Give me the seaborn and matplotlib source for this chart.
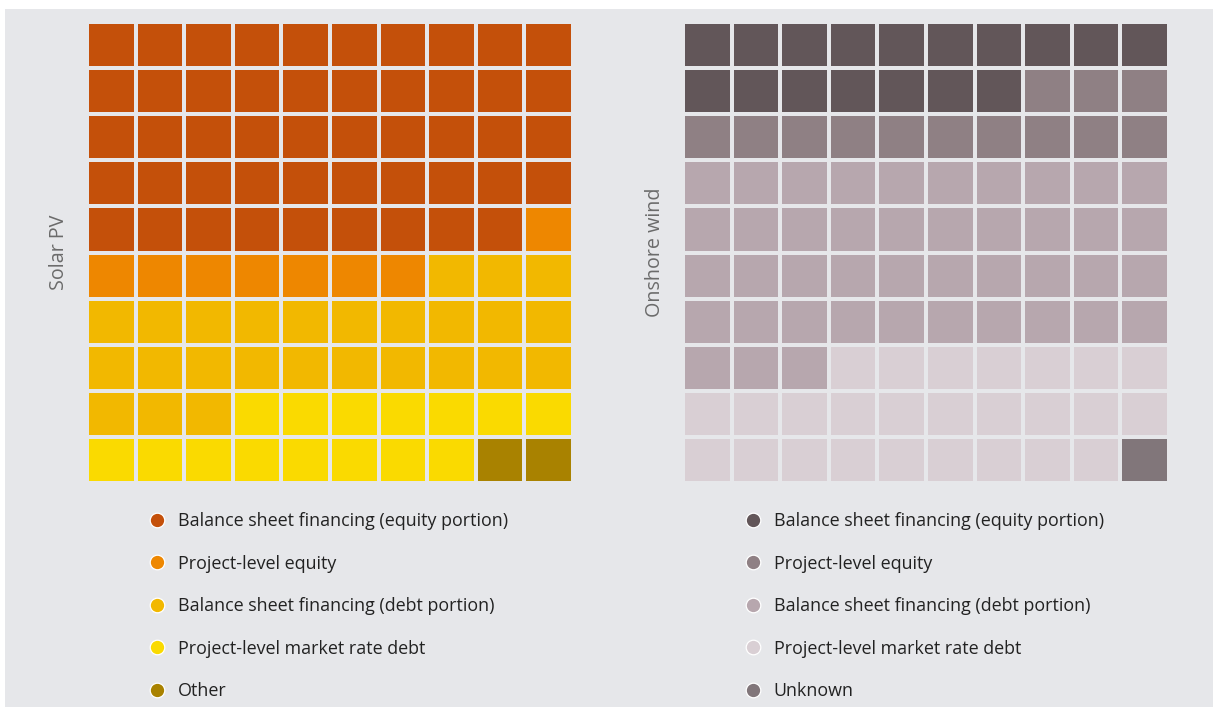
import numpy as np
import pandas as pd
import matplotlib
matplotlib.use("Agg")
import matplotlib.pyplot as plt
from matplotlib.colors import ListedColormap
from matplotlib.lines import Line2D
from matplotlib.patches import Rectangle
import seaborn as sns

# ---------------- data ----------------
solar_labels = ["Balance sheet financing (equity portion)", "Project-level equity",
                "Balance sheet financing (debt portion)", "Project-level market rate debt", "Other"]
solar_counts = [49, 8, 26, 15, 2]
solar_colors = ["#C4500A", "#EE8700", "#F2B800", "#FADA00", "#A98200"]

wind_labels = ["Balance sheet financing (equity portion)", "Project-level equity",
               "Balance sheet financing (debt portion)", "Project-level market rate debt", "Unknown"]
wind_counts = [17, 13, 43, 26, 1]
wind_colors = ["#625659", "#8F8084", "#B7A7AE", "#D9CFD4", "#81767A"]

panel_titles = ["Solar PV", "Onshore wind"]

BG = "#E6E7EA"
W, H = 1215, 707

sns.set_theme(style="white")
plt.rcParams["font.family"] = ["Open Sans", "DejaVu Sans"]

fig = plt.figure(figsize=(W / 100, H / 100), dpi=100)
fig.patch.set_facecolor("white")
fig.patches.append(Rectangle((5 / W, 0), (1213 - 5) / W, (H - 9) / H,
                             transform=fig.transFigure, facecolor=BG, edgecolor="none", zorder=-10))


def waffle(left_px, counts, colors, labels, title, legend_x_px):
    ax = fig.add_axes([left_px / W, (H - 483) / H, 486 / W, 461 / H])
    cats = np.repeat(np.arange(len(counts)), counts).reshape(10, 10)
    df = pd.DataFrame(cats)
    sns.heatmap(df, ax=ax, cmap=ListedColormap(colors), vmin=-0.5, vmax=len(colors) - 0.5,
                cbar=False, linewidths=2.7, linecolor=BG, xticklabels=False, yticklabels=False,
                square=False)
    ax.set_facecolor(BG)
    for s in ax.spines.values():
        s.set_visible(False)
    ax.set_ylabel(title, fontsize=14.2, color="#6B6B6B", labelpad=13)

    handles = [Line2D([0], [0], marker="o", linestyle="none", markersize=10.5,
                      markerfacecolor=c, markeredgecolor="white", markeredgewidth=0.9)
               for c in colors]
    fig.legend(handles, labels, loc="upper left",
               bbox_to_anchor=(legend_x_px / W, (H - 512) / H),
               frameon=False, fontsize=12.9, labelspacing=1.37, handlelength=0.8,
               handletextpad=0.75, borderpad=0, borderaxespad=0,
               labelcolor="#222222")
    return ax


waffle(87, solar_counts, solar_colors, solar_labels, panel_titles[0], 150)
waffle(683, wind_counts, wind_colors, wind_labels, panel_titles[1], 746)

fig.savefig("out.png", dpi=100, facecolor=fig.get_facecolor())
